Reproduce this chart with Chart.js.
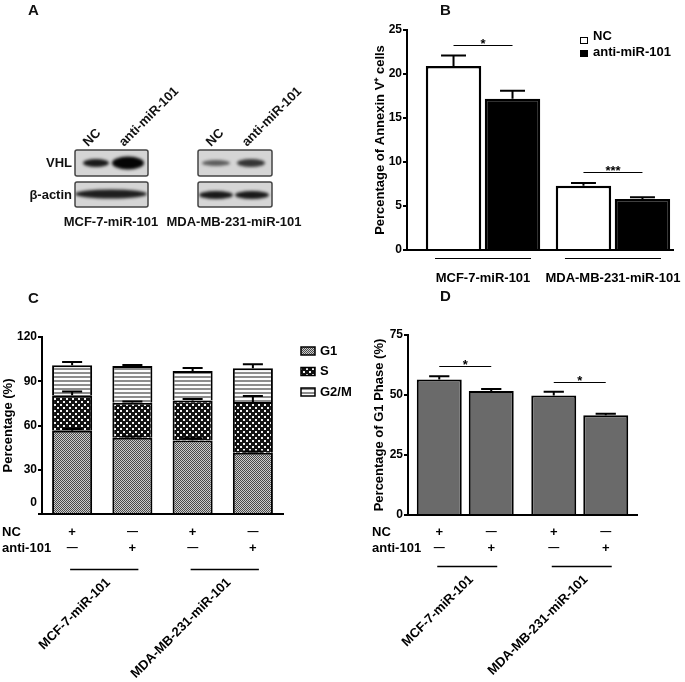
<!DOCTYPE html>
<html><head><meta charset="utf-8">
<script src="https://cdn.jsdelivr.net/npm/chart.js@4.4.0/dist/chart.umd.min.js"></script>
<style>
html,body{margin:0;padding:0;background:#fff;width:685px;height:682px;overflow:hidden;}
.box{position:absolute;}
.lbl{position:absolute;font:bold 15px 'Liberation Sans',Arial,sans-serif;line-height:15px;color:#111;}
</style></head><body>
<canvas id="blot" class="box" width="340" height="300" style="left:0;top:0"></canvas>
<div class="box" style="left:340px;top:0;width:345px;height:300px"><canvas id="cB" width="345" height="300"></canvas></div>
<div class="box" style="left:0;top:320px;width:385px;height:362px"><canvas id="cC" width="385" height="362"></canvas></div>
<div class="box" style="left:340px;top:320px;width:345px;height:362px"><canvas id="cD" width="345" height="362"></canvas></div>
<div class="lbl" style="left:28px;top:2px">A</div>
<div class="lbl" style="left:440px;top:2px">B</div>
<div class="lbl" style="left:28px;top:290px">C</div>
<div class="lbl" style="left:440px;top:288px">D</div>
<script>
// ---------- data ----------
const groups = ['MCF-7-miR-101', 'MDA-MB-231-miR-101'];
const seriesB = ['NC', 'anti-miR-101'];
const annexinNC = [20.9, 7.3];
const annexinNCErr = [1.2, 0.3];
const annexinAnti = [17.2, 5.8];
const annexinAntiErr = [0.9, 0.2];
const sigB = ['*', '***'];

const barsC = ['MCF-7 NC', 'MCF-7 anti-101', 'MDA NC', 'MDA anti-101'];
const barGroupC = [0, 0, 1, 1];
const ncSigns = ['+', '\u2014', '+', '\u2014'];
const antiSigns = ['\u2014', '+', '\u2014', '+'];
const phases = ['G1', 'S', 'G2/M'];
const g1 = [56.5, 51.7, 49.8, 41.6];
const g1Err = [1.2, 0.9, 1.6, 0.8];
const sPhase = [24.0, 23.8, 27.2, 34.4];
const sErr = [2.5, 0.8, 1.0, 4.0];
const g2m = [20.3, 24.8, 20.0, 22.8];
const g2mErr = [2.2, 0.8, 2.0, 2.7];

const seriesD = ['NC', 'anti-101'];
const g1NC = [56.5, 49.8];
const g1NCErr = [1.3, 1.6];
const g1Anti = [51.7, 41.6];
const g1AntiErr = [0.8, 0.6];
const sigD = ['*', '*'];

const FONT = "'Liberation Sans', Arial, sans-serif";
Chart.defaults.font.family = FONT;
Chart.defaults.font.size = 12;
Chart.defaults.font.weight = 'bold';
Chart.defaults.color = '#000';

// ---------- panel A (western blot image) ----------
(function(){
  const c = document.getElementById('blot').getContext('2d');
  function rr(x,y,w,h,r){c.beginPath();c.moveTo(x+r,y);c.lineTo(x+w-r,y);c.quadraticCurveTo(x+w,y,x+w,y+r);c.lineTo(x+w,y+h-r);c.quadraticCurveTo(x+w,y+h,x+w-r,y+h);c.lineTo(x+r,y+h);c.quadraticCurveTo(x,y+h,x,y+h-r);c.lineTo(x,y+r);c.quadraticCurveTo(x,y,x+r,y);c.closePath();}
  const boxes = [[75,150,73,26],[75,182,73,25],[198,150,74,26],[198,182,74,25]];
  const bands = [
    [[96,163,13,4,'rgba(15,15,15,0.95)'],[128,163,16,6.5,'#050505']],
    [[111,194,36,4.5,'rgba(20,20,20,0.95)']],
    [[216,163,14,3,'rgba(40,40,40,0.7)'],[251,163,14,4,'rgba(25,25,25,0.85)']],
    [[216,195,17,4,'rgba(15,15,15,0.95)'],[252,195,17,4,'rgba(15,15,15,0.95)']]
  ];
  boxes.forEach((b,i)=>{
    c.save();
    rr(b[0],b[1],b[2],b[3],2); c.fillStyle='#d5d5d5'; c.fill();
    c.clip();
    c.filter='blur(1.5px)';
    bands[i].forEach(e=>{c.fillStyle=e[4];c.beginPath();c.ellipse(e[0],e[1],e[2],e[3],0,0,Math.PI*2);c.fill();});
    c.restore();
    c.save(); rr(b[0],b[1],b[2],b[3],2); c.strokeStyle='#444'; c.lineWidth=1.5; c.stroke(); c.restore();
  });
  c.fillStyle='#111'; c.font='bold 13px '+FONT;
  c.textAlign='right'; c.textBaseline='middle';
  c.fillText('VHL',72,163); c.fillText('\u03b2-actin',72,195);
  c.textAlign='center';
  c.fillText(groups[0],111,222); c.fillText(groups[1],234,222);
  c.textAlign='left'; c.textBaseline='alphabetic';
  [[88,147,'NC'],[124,147,'anti-miR-101'],[211,147,'NC'],[247,147,'anti-miR-101']].forEach(t=>{
    c.save(); c.translate(t[0],t[1]); c.rotate(-Math.PI/4); c.fillText(t[2],0,0); c.restore();
  });
})();

// ---------- helpers ----------
function makePattern(w,h,draw){const cv=document.createElement('canvas');cv.width=w;cv.height=h;const x=cv.getContext('2d');draw(x);return x.createPattern(cv,'repeat');}
const patG1 = makePattern(2,2,x=>{x.fillStyle='#cdcdcd';x.fillRect(0,0,2,2);x.fillStyle='#4a4a4a';x.fillRect(0,0,1,1);x.fillRect(1,1,1,1);});
const patS = makePattern(6,6,x=>{x.fillStyle='#111';x.fillRect(0,0,6,6);x.fillStyle='#f2f2f2';x.fillRect(0,0,2,2);x.fillRect(3,3,2,2);});
const patG2 = makePattern(4,4,x=>{x.fillStyle='#fcfcfc';x.fillRect(0,0,4,4);x.fillStyle='#8c8c8c';x.fillRect(0,0,4,2);});

function errorBars(errs, capRatio){
  return {id:'errBars', afterDatasetsDraw(chart){
    const ctx=chart.ctx, ys=chart.scales.y;
    ctx.save(); ctx.strokeStyle='#000'; ctx.lineWidth=2;
    errs.forEach((arr,d)=>{
      const meta=chart.getDatasetMeta(d);
      meta.data.forEach((el,i)=>{
        const e=arr[i]; if(!e) return;
        const v=ys.getValueForPixel(el.y);
        const yt=ys.getPixelForValue(v+e);
        const w=el.width*capRatio/2;
        ctx.beginPath(); ctx.moveTo(el.x,el.y); ctx.lineTo(el.x,yt);
        ctx.moveTo(el.x-w,yt); ctx.lineTo(el.x+w,yt); ctx.stroke();
      });
    });
    ctx.restore();
  }};
}
function sigMarks(labels, vals, errs, gap){
  return {id:'sig', afterDatasetsDraw(chart){
    const ctx=chart.ctx, ys=chart.scales.y;
    const m0=chart.getDatasetMeta(0), m1=chart.getDatasetMeta(1);
    ctx.save(); ctx.strokeStyle='#000'; ctx.fillStyle='#000'; ctx.lineWidth=1;
    ctx.font='bold 13px '+FONT; ctx.textAlign='center'; ctx.textBaseline='alphabetic';
    labels.forEach((s,g)=>{
      const top=Math.max(vals[0][g]+errs[0][g], vals[1][g]+errs[1][g]);
      const ly=Math.round(ys.getPixelForValue(top)-gap)+0.5;
      const x0=m0.data[g].x, x1=m1.data[g].x;
      ctx.beginPath(); ctx.moveTo(x0,ly); ctx.lineTo(x1,ly); ctx.stroke();
      ctx.fillText(s,(x0+x1)/2,ly+2);
    });
    ctx.restore();
  }};
}
function belowAxis(centers, rowX, rowY, lineY){
  return {id:'below', afterDraw(chart){
    const ctx=chart.ctx; const cs=centers(chart);
    ctx.save(); ctx.fillStyle='#000'; ctx.strokeStyle='#000';
    ctx.font='bold 13px '+FONT; ctx.textBaseline='middle'; ctx.textAlign='left';
    ctx.fillText('NC',rowX,rowY[0]); ctx.fillText('anti-101',rowX,rowY[1]);
    ctx.textAlign='center';
    cs.forEach((cx,i)=>{
      [ncSigns[i],antiSigns[i]].forEach((s,r)=>{
        ctx.font=(s==='+'?'bold 13px ':'bold 11px ')+FONT;
        ctx.fillText(s,cx,rowY[r]);
      });
    });
    ctx.lineWidth=1.5;
    ctx.font='bold 13px '+FONT;
    groups.forEach((g,k)=>{
      const a=cs[2*k], b=cs[2*k+1];
      ctx.beginPath(); ctx.moveTo(a-2,lineY); ctx.lineTo(b+6,lineY); ctx.stroke();
      const mid=(a+b)/2+2;
      ctx.save(); ctx.translate(mid+4,lineY+11); ctx.rotate(-Math.PI/4);
      ctx.textAlign='right'; ctx.textBaseline='middle'; ctx.fillText(g,0,0); ctx.restore();
    });
    ctx.restore();
  }};
}
const yGrid = {display:true, drawOnChartArea:false, drawTicks:true, tickLength:4, color:'#000', lineWidth:2};
const axBorder = {display:true, color:'#000', width:2};

// ---------- panel B ----------
new Chart(document.getElementById('cB'), {
  type:'bar',
  data:{datasets:[
    {label:seriesB[0], data:annexinNC.map((v,i)=>({x:i,y:v})), backgroundColor:'#fff', borderColor:'#000', borderWidth:2.5, categoryPercentage:0.908, barPercentage:0.94},
    {label:seriesB[1], data:annexinAnti.map((v,i)=>({x:i,y:v})), backgroundColor:'#000', borderColor:'#000', borderWidth:2.5, categoryPercentage:0.908, barPercentage:0.94}
  ]},
  options:{
    responsive:false, animation:false,
    layout:{padding:{left:0,top:30,right:12,bottom:0}},
    plugins:{legend:{display:false}, tooltip:{enabled:false}},
    scales:{
      x:{type:'linear', min:-0.585, max:1.462, offset:false, grid:{display:false}, border:axBorder, ticks:{display:false},
         afterBuildTicks:s=>{s.ticks=groups.map((g,i)=>({value:i}));}, afterFit:s=>{s.height=50;}},
      y:{min:0, max:25, ticks:{stepSize:5, padding:1, font:{size:12,weight:'bold'}}, grid:yGrid, border:axBorder,
         title:{display:true, text:'Percentage of Annexin V\u207a cells', font:{size:13,weight:'bold'}, padding:{top:33,bottom:0}},
         afterFit:s=>{s.width=67;}}
    }
  },
  plugins:[
    errorBars([annexinNCErr, annexinAntiErr], 0.45),
    sigMarks(sigB, [annexinNC, annexinAnti], [annexinNCErr, annexinAntiErr], 11),
    {id:'bBelow', afterDraw(chart){
      const ctx=chart.ctx, xs=chart.scales.x, y0=chart.chartArea.bottom;
      ctx.save(); ctx.strokeStyle='#000'; ctx.fillStyle='#000'; ctx.lineWidth=1.2;
      ctx.font='bold 13px '+FONT; ctx.textAlign='center'; ctx.textBaseline='middle';
      groups.forEach((g,i)=>{const cx=xs.getPixelForValue(i);
        ctx.beginPath(); ctx.moveTo(cx-48,y0+8.5); ctx.lineTo(cx+48,y0+8.5); ctx.stroke();
        ctx.fillText(g,cx,y0+28);});
      // legend
      chart.data.datasets.forEach((ds,i)=>{
        const by=[37,50][i], ty=[36,52][i];
        ctx.fillStyle=ds.backgroundColor; ctx.fillRect(240,by,8,7);
        ctx.lineWidth=1; ctx.strokeStyle='#000'; ctx.strokeRect(240.5,by+0.5,7,6);
        ctx.fillStyle='#000'; ctx.textAlign='left'; ctx.fillText(ds.label,253,ty);
      });
      ctx.restore();
    }}
  ]
});

// ---------- panel C ----------
new Chart(document.getElementById('cC'), {
  type:'bar',
  data:{labels:barsC, datasets:[
    {label:phases[0], data:g1, backgroundColor:patG1},
    {label:phases[1], data:sPhase, backgroundColor:patS},
    {label:phases[2], data:g2m, backgroundColor:patG2}
  ].map(d=>Object.assign(d,{borderColor:'#000', borderWidth:2, categoryPercentage:1, barPercentage:0.665}))},
  options:{
    responsive:false, animation:false,
    layout:{padding:{left:0,top:17,right:102,bottom:0}},
    plugins:{legend:{display:false}, tooltip:{enabled:false}},
    scales:{
      x:{stacked:true, grid:{display:false}, border:axBorder, ticks:{display:false}, afterFit:s=>{s.height=168;}},
      y:{stacked:true, min:0, max:120, ticks:{stepSize:30, padding:1, callback:v=>v===0?'':v}, grid:yGrid, border:axBorder,
         title:{display:true, text:'Percentage (%)', font:{size:13,weight:'bold'}, padding:{top:1,bottom:0}},
         afterFit:s=>{s.width=42;}}
    }
  },
  plugins:[
    errorBars([g1Err, sErr, g2mErr], 0.5),
    belowAxis(ch=>ch.getDatasetMeta(0).data.map(e=>e.x), 2, [212,228], 249.5),
    {id:'cExtra', afterDraw(chart){
      const ctx=chart.ctx, ys=chart.scales.y;
      ctx.save(); ctx.fillStyle='#000'; ctx.font='bold 12px '+FONT; ctx.textAlign='right'; ctx.textBaseline='middle';
      ctx.fillText('0', chart.chartArea.left-5, ys.getPixelForValue(0)-11);
      ctx.font='bold 13px '+FONT; ctx.textAlign='left';
      chart.data.datasets.forEach((ds,i)=>{
        const cy=31+i*20.5;
        ctx.fillStyle=ds.backgroundColor; ctx.fillRect(301,cy-4,14,8);
        ctx.strokeStyle='#000'; ctx.lineWidth=1.5; ctx.strokeRect(301,cy-4,14,8);
        ctx.fillStyle='#000'; ctx.fillText(ds.label,320,cy);
      });
      ctx.restore();
    }}
  ]
});

// ---------- panel D ----------
new Chart(document.getElementById('cD'), {
  type:'bar',
  data:{labels:groups, datasets:[
    {label:seriesD[0], data:g1NC},
    {label:seriesD[1], data:g1Anti}
  ].map(d=>Object.assign(d,{backgroundColor:'#6a6a6a', borderColor:'#000', borderWidth:2, categoryPercentage:0.908, barPercentage:0.865}))},
  options:{
    responsive:false, animation:false,
    layout:{padding:{left:0,top:15,right:48,bottom:0}},
    plugins:{legend:{display:false}, tooltip:{enabled:false}},
    scales:{
      x:{grid:{display:false}, border:axBorder, ticks:{display:false}, afterFit:s=>{s.height=167;}},
      y:{min:0, max:75, ticks:{stepSize:25, padding:1}, grid:yGrid, border:axBorder,
         title:{display:true, text:'Percentage of G1 Phase (%)', font:{size:13,weight:'bold'}, padding:{top:32,bottom:0}},
         afterFit:s=>{s.width=68;}}
    }
  },
  plugins:[
    errorBars([g1NCErr, g1AntiErr], 0.45),
    sigMarks(sigD, [g1NC, g1Anti], [g1NCErr, g1AntiErr], 10),
    belowAxis(ch=>{const a=ch.getDatasetMeta(0).data, b=ch.getDatasetMeta(1).data; return [a[0].x,b[0].x,a[1].x,b[1].x];}, 32, [212,228], 246.5)
  ]
});
</script>
</body></html>
